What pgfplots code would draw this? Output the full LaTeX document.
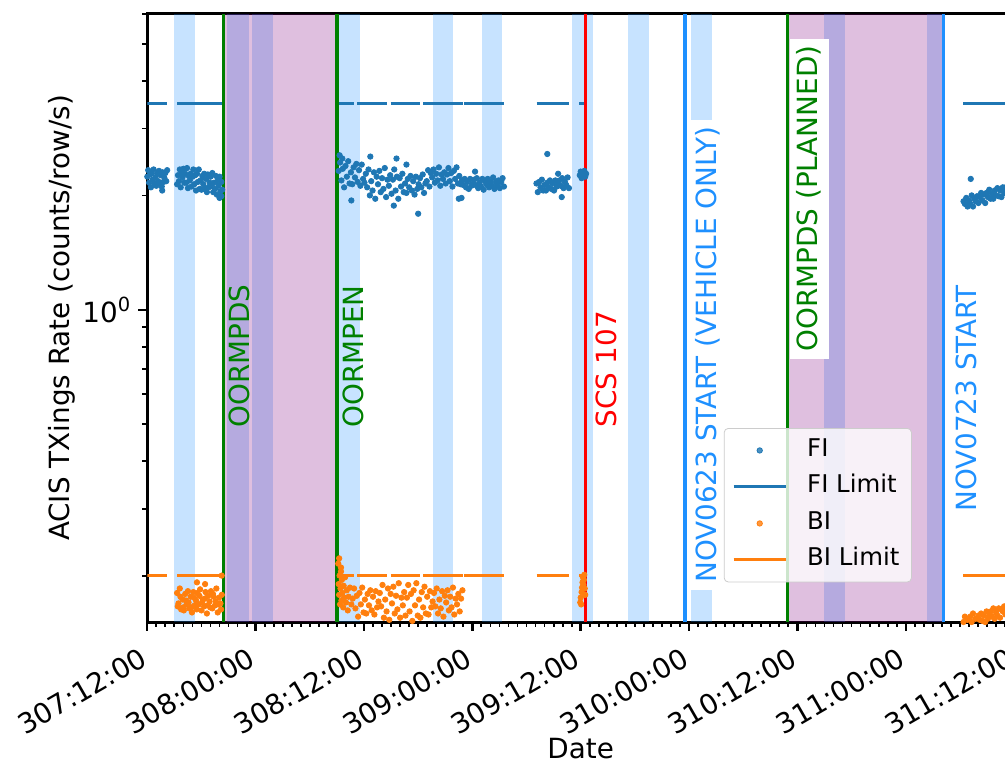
\documentclass[border=0pt]{standalone}
\usepackage{fontspec}
\setmainfont{DejaVu Sans}
\usepackage{pgfplots}
\pgfplotsset{compat=1.18}
\definecolor{fiblue}{HTML}{1F77B4}
\definecolor{biorange}{HTML}{FF7F0E}
\definecolor{dodgerblue}{RGB}{30,144,255}
\definecolor{mplgreen}{RGB}{0,128,0}
\definecolor{mplpurple}{RGB}{128,0,128}
\begin{document}
\begin{tikzpicture}
\begin{axis}[
  scale only axis, width=433.4pt, height=304pt,
  xmin=0, xmax=96, ymode=log, ymin=0.151, ymax=6.0,
  axis line style={line width=1.5pt},
  tick align=outside, tick pos=left,
  major tick length=4.5pt, minor tick length=2.5pt,
  every major tick/.append style={line width=1.2pt, black},
  every minor tick/.append style={line width=0.9pt, black},
  xtick={0,12,24,36,48,60,72,84,96},
  xticklabels={307:12:00,308:00:00,308:12:00,309:00:00,309:12:00,310:00:00,310:12:00,311:00:00,311:12:00},
  minor x tick num=11,
  ytick={1}, yticklabels={10\textsuperscript{0}},
  minor ytick={0.2,0.3,0.4,0.5,0.6,0.7,0.8,0.9,2,3,4,5,6},
  tick label style={font=\fontsize{13.9}{16}\selectfont},
  xticklabel style={xshift=-4pt, yshift=-6pt, rotate=30, anchor=north east, inner sep=1pt},
  xlabel={Date}, ylabel={ACIS TXings Rate (counts/row/s)},
  every axis x label/.style={at={(axis description cs:0.5,-0.2253)}, anchor=base, font=\fontsize{13.9}{16}\selectfont},
  every axis y label/.style={at={(axis description cs:-0.0981,0.5)}, rotate=90, anchor=center, font=\fontsize{13.9}{16}\selectfont},
  legend image code/.code={\draw[mark repeat=2,mark phase=2,#1] plot coordinates {(0pt,0pt) (13pt,0pt) (26pt,0pt)};},
  legend cell align=left,
  legend style={at={(0.882,0.319)}, anchor=north east, font=\fontsize{12.2}{14}\selectfont,
    fill=white, fill opacity=0.8, text opacity=1, draw=black!20, rounded corners=2pt,
    inner xsep=4pt, inner ysep=3pt, row sep=2.25pt,
    nodes={text height=9pt, text depth=3pt, inner sep=2pt},
    /tikz/every odd column/.append style={column sep=8pt}},
]
% blue bands
\fill[dodgerblue, fill opacity=0.25] (axis cs:2.96,0.151) rectangle (axis cs:5.25,6.0);
\fill[dodgerblue, fill opacity=0.25] (axis cs:8.79,0.151) rectangle (axis cs:11.23,6.0);
\fill[dodgerblue, fill opacity=0.25] (axis cs:11.60,0.151) rectangle (axis cs:13.92,6.0);
\fill[dodgerblue, fill opacity=0.25] (axis cs:21.10,0.151) rectangle (axis cs:23.60,6.0);
\fill[dodgerblue, fill opacity=0.25] (axis cs:31.65,0.151) rectangle (axis cs:33.90,6.0);
\fill[dodgerblue, fill opacity=0.25] (axis cs:37.03,0.151) rectangle (axis cs:39.28,6.0);
\fill[dodgerblue, fill opacity=0.25] (axis cs:47.00,0.151) rectangle (axis cs:49.36,6.0);
\fill[dodgerblue, fill opacity=0.25] (axis cs:53.27,0.151) rectangle (axis cs:55.56,6.0);
\fill[dodgerblue, fill opacity=0.25] (axis cs:60.20,0.151) rectangle (axis cs:62.50,6.0);
\fill[dodgerblue, fill opacity=0.25] (axis cs:74.90,0.151) rectangle (axis cs:77.26,6.0);
\fill[dodgerblue, fill opacity=0.25] (axis cs:86.30,0.151) rectangle (axis cs:88.20,6.0);
% purple regions
\fill[mplpurple, fill opacity=0.25] (axis cs:8.42,0.151) rectangle (axis cs:20.90,6.0);
\fill[mplpurple, fill opacity=0.25] (axis cs:70.90,0.151) rectangle (axis cs:88.20,6.0);

% FI data
\addplot[only marks, mark=*, mark size=1.35pt, color=fiblue] coordinates {
(0.0,2.24)(0.1,2.33)(0.2,2.16)(0.3,2.27)(0.4,2.10)(0.5,2.29)(0.6,2.20)(0.7,2.34)(0.8,2.14)(0.9,2.23)
(1.0,2.12)(1.1,2.28)(1.2,2.18)(1.3,2.32)(1.4,2.15)(1.5,2.26)(1.6,2.11)(1.7,2.30)(1.8,2.17)(1.9,2.22)
(2.0,2.29)(2.1,2.18)(2.2,2.33)(1.65,2.06)
(3.3,2.14)(3.4,2.26)(3.5,2.18)(3.6,2.34)(3.7,2.10)(3.8,2.30)(3.9,2.23)(4.0,2.35)(4.1,2.16)(4.2,2.28)
(4.3,2.16)(4.4,2.36)(4.5,2.09)(4.6,2.25)(4.7,2.19)(4.8,2.28)(4.9,2.11)(5.0,2.24)(5.1,2.34)(5.2,2.14)
(5.3,2.26)(5.4,2.06)(5.5,2.28)(5.6,2.17)(5.7,2.34)(5.8,2.08)(5.9,2.19)(6.0,2.07)(6.1,2.25)(6.2,2.14)
(6.3,2.28)(6.4,2.09)(6.5,2.21)(6.6,2.04)(6.7,2.27)(6.8,2.10)(6.9,2.16)(7.0,2.24)(7.1,2.12)(7.2,2.29)
(7.3,2.04)(7.4,2.16)(7.5,2.08)(7.6,2.25)(7.7,2.01)(7.8,2.19)(7.9,2.12)(8.0,2.24)(8.1,2.05)(8.2,2.17)
(8.3,2.07)(8.0,1.97)(8.2,1.99)
(21.20,2.32)(21.35,2.44)(21.50,2.19)(21.65,2.35)(21.80,2.10)(21.95,2.39)(22.10,2.24)(22.25,2.46)
(22.40,2.15)(22.55,2.30)(22.70,2.14)(22.85,2.37)(23.00,2.23)(23.15,2.42)(23.30,2.17)(23.45,2.33)
(23.60,2.12)(23.75,2.41)(23.90,2.21)(24.05,2.16)(24.20,2.28)(24.35,2.10)(24.50,2.34)(24.65,2.00)
(24.80,2.18)(24.95,2.06)(25.10,2.30)(25.25,1.96)(25.40,2.24)(25.55,2.14)(25.70,2.32)(25.85,2.04)
(26.00,2.22)(26.15,2.08)(26.30,2.36)(26.45,1.98)(26.60,2.20)(26.75,2.12)(26.90,2.26)(27.05,2.02)
(27.20,2.20)(27.35,2.34)(27.50,2.06)(27.65,2.24)(27.80,1.96)(27.95,2.22)(28.10,2.11)(28.25,2.28)
(28.40,2.04)(28.55,2.15)(28.70,2.03)(28.85,2.21)(29.00,2.10)(29.15,2.25)(29.30,2.06)(29.45,2.18)
(29.60,2.01)(29.75,2.24)(29.90,2.08)(30.05,2.14)(30.20,2.22)(30.35,2.10)(30.50,2.27)(30.65,2.03)
(30.80,2.15)(30.95,2.18)(31.10,2.33)(31.25,2.11)(31.40,2.29)(31.55,2.23)(31.70,2.34)(31.85,2.16)
(32.00,2.28)(32.15,2.19)(32.30,2.37)(32.45,2.12)(32.60,2.27)(32.75,2.21)(32.90,2.30)(33.05,2.15)
(33.20,2.27)(33.35,2.36)(33.50,2.18)(33.65,2.29)(33.80,2.11)(33.95,2.32)(34.10,2.21)(34.25,2.37)
(34.40,2.15)(34.55,2.25)(34.70,2.14)(34.85,2.19)(35.00,2.13)(35.15,2.21)(35.30,2.10)(35.45,2.17)
(35.60,2.08)(35.75,2.21)(35.90,2.12)(36.05,2.15)(36.20,2.20)(36.35,2.13)(36.50,2.22)(36.65,2.09)
(36.80,2.16)(36.95,2.11)(37.10,2.21)(37.25,2.07)(37.40,2.18)(37.55,2.14)(37.70,2.21)(37.85,2.10)
(38.00,2.17)(38.15,2.12)(38.30,2.23)(38.45,2.08)(38.60,2.17)(38.75,2.13)(38.90,2.19)(39.05,2.09)
(39.20,2.17)(39.35,2.22)(39.50,2.11)
(21.3,2.55)(21.6,2.50)(30.0,1.79)(27.6,2.50)(28.7,2.41)(24.7,2.53)(27.3,1.88)(22.6,1.94)(36.3,2.31)(34.5,1.96)(34.8,1.97)
(43.10,2.15)(43.25,2.04)(43.40,2.17)(43.55,2.10)(43.70,2.20)(43.85,2.06)(44.00,2.13)(44.15,2.06)
(44.30,2.16)(44.45,2.10)(44.60,2.19)(44.75,2.08)(44.90,2.15)(45.05,2.06)(45.20,2.19)(45.35,2.11)
(45.50,2.14)(45.65,2.19)(45.80,2.12)(45.95,2.22)(46.10,2.09)(46.25,2.17)(46.40,2.13)(46.55,2.23)
(46.70,2.09)(44.3,2.57)(45.5,2.28)(45.9,1.98)
(47.9,2.26)(48.0,2.31)(48.1,2.22)(48.2,2.29)(48.3,2.25)(48.4,2.32)(48.5,2.24)(48.6,2.28)
(90.40,1.93)(90.55,1.90)(90.70,1.97)(90.85,1.87)(91.00,1.94)(91.15,1.90)(91.30,2.00)(91.45,1.87)
(91.60,1.96)(91.75,1.93)(91.90,1.99)(92.05,1.91)(92.20,1.98)(92.35,2.03)(92.50,1.94)(92.65,2.01)
(92.80,1.91)(92.95,2.03)(93.10,1.98)(93.25,2.07)(93.40,1.96)(93.55,2.02)(93.70,1.96)(93.85,2.06)
(94.00,2.00)(94.15,2.09)(94.30,1.99)(94.45,2.06)(94.60,1.98)(94.75,2.10)(94.90,2.03)(95.05,2.06)
(95.20,2.11)(95.35,2.05)(95.50,2.14)(95.65,2.02)(95.80,2.09)(95.95,2.05)(91.2,2.21)
};
\addlegendentry{FI}
% FI limit
\addplot[color=fiblue, line width=1.5pt, unbounded coords=jump] coordinates {
(0,3.5)(2.21,3.5)(2.5,nan)(3.32,3.5)(8.31,3.5)(15,nan)(21.23,3.5)(22.89,3.5)(23.0,nan)
(23.26,3.5)(26.58,3.5)(26.7,nan)(26.95,3.5)(30.2,3.5)(30.4,nan)(30.56,3.5)(34.93,3.5)(35.0,nan)
(35.07,3.5)(39.5,3.5)(41,nan)(43.12,3.5)(46.73,3.5)(47,nan)(47.84,3.5)(48.73,3.5)(60,nan)(90.37,3.5)(96,3.5)
};
\addlegendentry{FI Limit}
% BI data
\addplot[only marks, mark=*, mark size=1.35pt, color=biorange] coordinates {
(3.30,0.180)(3.45,0.169)(3.60,0.185)(3.75,0.163)(3.90,0.173)(4.05,0.162)(4.20,0.179)(4.35,0.168)
(4.50,0.182)(4.65,0.164)(4.80,0.176)(4.95,0.160)(5.10,0.181)(5.25,0.167)(5.40,0.172)(5.55,0.180)
(5.70,0.168)(5.85,0.184)(6.00,0.162)(6.15,0.173)(6.30,0.166)(6.45,0.181)(6.60,0.159)(6.75,0.177)
(6.90,0.171)(7.05,0.182)(7.20,0.164)(7.35,0.176)(7.50,0.167)(7.65,0.185)(7.80,0.160)(7.95,0.175)
(8.10,0.169)(8.25,0.178)
(3.37,0.166)(3.67,0.176)(3.97,0.165)(4.27,0.172)(4.57,0.170)(4.87,0.165)(5.17,0.175)(5.47,0.163)
(5.77,0.177)(6.07,0.170)(6.37,0.174)(6.67,0.167)(6.97,0.165)(7.27,0.179)(7.57,0.171)(7.87,0.168)(8.17,0.163)
(5.5,0.192)(6.4,0.190)(8.24,0.200)
(21.15,0.215)(21.2,0.190)(21.25,0.178)(21.3,0.200)(21.35,0.168)(21.4,0.185)(21.45,0.205)(21.5,0.172)
(21.55,0.195)(21.6,0.180)(21.7,0.165)(21.75,0.188)(21.8,0.175)(21.9,0.198)(22.0,0.170)(22.1,0.183)
(22.2,0.162)(22.3,0.176)(22.45,0.186)(22.6,0.168)(21.25,0.222)(21.45,0.210)
(22.75,0.174)(22.90,0.185)(23.05,0.164)(23.20,0.177)(23.35,0.156)(23.50,0.180)(23.65,0.168)(23.80,0.186)
(23.95,0.160)(24.10,0.173)(24.25,0.159)(24.40,0.179)(24.55,0.167)(24.70,0.183)(24.85,0.162)(25.00,0.176)
(25.15,0.158)(25.30,0.182)(25.45,0.165)(25.60,0.171)(25.75,0.180)(25.90,0.166)(26.05,0.189)(26.20,0.155)
(26.35,0.173)(26.50,0.161)(26.65,0.185)(26.80,0.153)(26.95,0.179)(27.10,0.169)(27.25,0.187)(27.40,0.159)
(27.55,0.177)(27.70,0.163)(27.85,0.191)(28.00,0.155)(28.15,0.175)(28.30,0.167)(28.45,0.181)(28.60,0.157)
(28.75,0.175)(28.90,0.189)(29.05,0.161)(29.20,0.179)(29.35,0.152)(29.50,0.183)(29.65,0.167)(29.80,0.191)
(29.95,0.157)(30.10,0.173)(30.25,0.155)(30.40,0.181)(30.55,0.165)(30.70,0.187)(30.85,0.159)(31.00,0.176)
(31.15,0.158)(31.30,0.182)(31.45,0.165)(31.60,0.171)(31.75,0.180)(31.90,0.166)(32.05,0.185)(32.20,0.159)
(32.35,0.173)(32.50,0.164)(32.65,0.182)(32.80,0.156)(32.95,0.177)(33.10,0.170)(33.25,0.183)(33.40,0.162)
(33.55,0.176)(33.70,0.165)(33.85,0.186)(34.00,0.158)(34.15,0.174)(34.30,0.168)(34.45,0.179)(34.60,0.161)
(34.75,0.174)(34.90,0.183)
(47.95,0.170)(48.0,0.175)(48.05,0.168)(48.1,0.181)(48.15,0.186)(48.2,0.192)(48.25,0.198)(48.3,0.189)
(48.35,0.195)(48.4,0.201)(48.45,0.185)(48.5,0.178)
(90.40,0.151)(90.55,0.156)(90.70,0.148)(90.85,0.153)(91.00,0.146)(91.15,0.156)(91.30,0.151)(91.45,0.159)
(91.60,0.149)(91.75,0.154)(91.90,0.149)(92.05,0.157)(92.20,0.153)(92.35,0.159)(92.50,0.152)(92.65,0.157)
(92.80,0.151)(92.95,0.161)(93.10,0.154)(93.25,0.157)(93.40,0.161)(93.55,0.156)(93.70,0.164)(93.85,0.154)
(94.00,0.160)(94.15,0.157)(94.30,0.164)(94.45,0.155)(94.60,0.163)(94.75,0.161)(94.90,0.166)(95.05,0.158)
(95.20,0.164)(95.35,0.160)(95.50,0.169)(95.65,0.159)(95.80,0.166)(95.95,0.164)
};
\addlegendentry{BI}
% BI limit
\addplot[color=biorange, line width=1.5pt, unbounded coords=jump] coordinates {
(0,0.2)(2.21,0.2)(2.5,nan)(3.32,0.2)(8.31,0.2)(15,nan)(21.23,0.2)(22.89,0.2)(23.0,nan)
(23.26,0.2)(26.58,0.2)(26.7,nan)(26.95,0.2)(30.2,0.2)(30.4,nan)(30.56,0.2)(34.93,0.2)(35.0,nan)
(35.07,0.2)(39.5,0.2)(41,nan)(43.12,0.2)(46.73,0.2)(47,nan)(47.84,0.2)(48.73,0.2)(60,nan)(90.37,0.2)(96,0.2)
};
\addlegendentry{BI Limit}
% vertical event lines
\draw[mplgreen, line width=1.6pt] (axis cs:8.42,0.151) -- (axis cs:8.42,6.0);
\draw[mplgreen, line width=1.6pt] (axis cs:21.0,0.151) -- (axis cs:21.0,6.0);
\draw[red, line width=1.6pt] (axis cs:48.5,0.151) -- (axis cs:48.5,6.0);
\draw[dodgerblue, line width=1.6pt] (axis cs:59.55,0.151) -- (axis cs:59.55,6.0);
\draw[mplgreen, line width=1.6pt] (axis cs:70.9,0.151) -- (axis cs:70.9,6.0);
\draw[dodgerblue, line width=1.6pt] (axis cs:88.2,0.151) -- (axis cs:88.2,6.0);
% event labels
\node[rotate=90, anchor=base west, inner sep=0pt, text=mplgreen, font=\fontsize{13.9}{16}\selectfont] at (axis cs:11.28,0.489) {OORMPDS};
\node[rotate=90, anchor=base west, inner sep=0pt, text=mplgreen, font=\fontsize{13.9}{16}\selectfont] at (axis cs:23.89,0.489) {OORMPEN};
\node[rotate=90, anchor=base west, inner sep=0pt, text=red, font=\fontsize{13.9}{16}\selectfont] at (axis cs:52.0,0.489) {SCS 107};
\node[rotate=90, anchor=base west, inner sep=3.5pt, fill=white, text=dodgerblue, font=\fontsize{13.9}{16}\selectfont] at (axis cs:63.09,0.1833) {NOV0623 START (VEHICLE ONLY)};
\node[rotate=90, anchor=base west, inner sep=3.5pt, fill=white, text=mplgreen, font=\fontsize{13.9}{16}\selectfont] at (axis cs:74.27,0.743) {OORMPDS (PLANNED)};
\node[rotate=90, anchor=base west, inner sep=0pt, text=dodgerblue, font=\fontsize{13.9}{16}\selectfont] at (axis cs:91.88,0.294) {NOV0723 START};
\coordinate (O) at (rel axis cs:0,0);
\end{axis}
\pgfresetboundingbox
\path[use as bounding box] ([shift={(-73.65pt,-71pt)}]O) rectangle ([shift={(428.85pt,311pt)}]O);
\end{tikzpicture}
\end{document}
